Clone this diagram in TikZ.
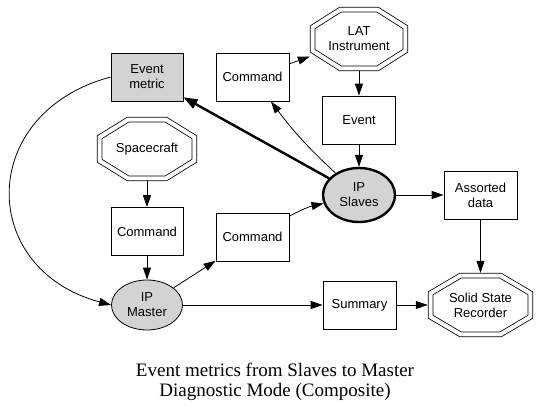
\documentclass[tikz,border=0pt]{standalone}
\usepackage{fontspec}
\setmainfont{Liberation Sans}
\newfontfamily\capfont{Liberation Serif}
\usetikzlibrary{shapes.geometric,arrows.meta,calc}
\definecolor{nodegray}{RGB}{211,211,211}
% double octagon drawn inside a named (invisible) node
\newcommand{\octagon}[1]{%
  \coordinate (#1-nw) at ([shift={(2.8,-2.8)}]#1.north west);
  \coordinate (#1-ne) at ([shift={(-2.8,-2.8)}]#1.north east);
  \coordinate (#1-se) at ([shift={(-2.8,2.8)}]#1.south east);
  \coordinate (#1-sw) at ([shift={(2.8,2.8)}]#1.south west);
  \draw[octline] ($(#1-nw)!.3!(#1-ne)$) -- ($(#1-nw)!.7!(#1-ne)$)
    -- ($(#1-ne)!.3!(#1-se)$) -- ($(#1-ne)!.7!(#1-se)$)
    -- ($(#1-se)!.3!(#1-sw)$) -- ($(#1-se)!.7!(#1-sw)$)
    -- ($(#1-sw)!.3!(#1-nw)$) -- ($(#1-sw)!.7!(#1-nw)$) -- cycle;}
\begin{document}
\begin{tikzpicture}[x=1pt,y=1pt,
  box/.style={draw,line width=0.8pt,minimum width=73pt,minimum height=48pt,
    inner sep=0pt,align=center,font=\fontsize{13}{15}\selectfont},
  octbox/.style={rectangle,minimum height=64pt,inner sep=0pt,align=center,
    font=\fontsize{13}{15}\selectfont},
  octline/.style={double,line width=0.8pt,double distance=4pt},
  ipnode/.style={ellipse,draw,fill=nodegray,line width=0.8pt,inner sep=0pt,
    align=center,font=\fontsize{13}{15}\selectfont},
  arr/.style={line width=0.8pt,-{Triangle[length=12pt,width=8pt]}},
  thickarr/.style={line width=2.4pt,-{Triangle[length=14pt,width=10pt]}}]
\useasboundingbox (0,0) rectangle (551,416);

% nodes
\node[box,fill=nodegray,minimum width=72pt] (metric) at (147,339) {Event\\metric};
\node[box] (cmdtop) at (252.5,339) {Command};
\node[octbox,minimum width=98pt] (lat) at (359,377) {LAT\\Instrument};
\node[box] (event) at (359,296) {Event};
\node[octbox,minimum width=100pt] (space) at (147,267) {Spacecraft};
\node[box,minimum width=72pt] (cmdleft) at (147,184.5) {Command};
\node[box] (cmdmid) at (252.5,179) {Command};
\node[ipnode,minimum width=71pt,minimum height=50pt] (master) at (147,111) {IP\\Master};
\node[ipnode,line width=2.4pt,minimum width=72pt,minimum height=54pt] (slaves) at (359,221) {IP\\Slaves};
\node[box] (assorted) at (480.5,221) {Assorted\\data};
\node[box] (summary) at (359.5,111) {Summary};
\node[octbox,minimum width=105pt] (ssr) at (480.5,111) {Solid State\\Recorder};
\octagon{lat}
\octagon{space}
\octagon{ssr}

% connectors
\draw[arr] (cmdtop) -- (lat);
\draw[arr] (lat) -- (event);
\draw[arr] (event) -- (slaves);
\draw[thickarr] (slaves) -- (metric);
\draw[arr] (slaves) to[bend left=5] (cmdtop);
\draw[arr] (cmdmid) to[bend left=8] (slaves);
\draw[arr] (master) -- (cmdmid);
\draw[arr] (space) -- (cmdleft);
\draw[arr] (cmdleft) -- (master);
\draw[arr] (master) -- (summary);
\draw[arr] (summary) -- (ssr);
\draw[arr] (slaves) -- (assorted);
\draw[arr] (assorted) -- (ssr);
\draw[arr] (metric.west) to[out=195,in=165,looseness=1.55] (master.west);

% caption
\node[font=\capfont\fontsize{19}{19.5}\selectfont,align=center] (caption) at (275,34)
  {Event metrics from Slaves to Master\\Diagnostic Mode (Composite)};
\end{tikzpicture}
\end{document}
